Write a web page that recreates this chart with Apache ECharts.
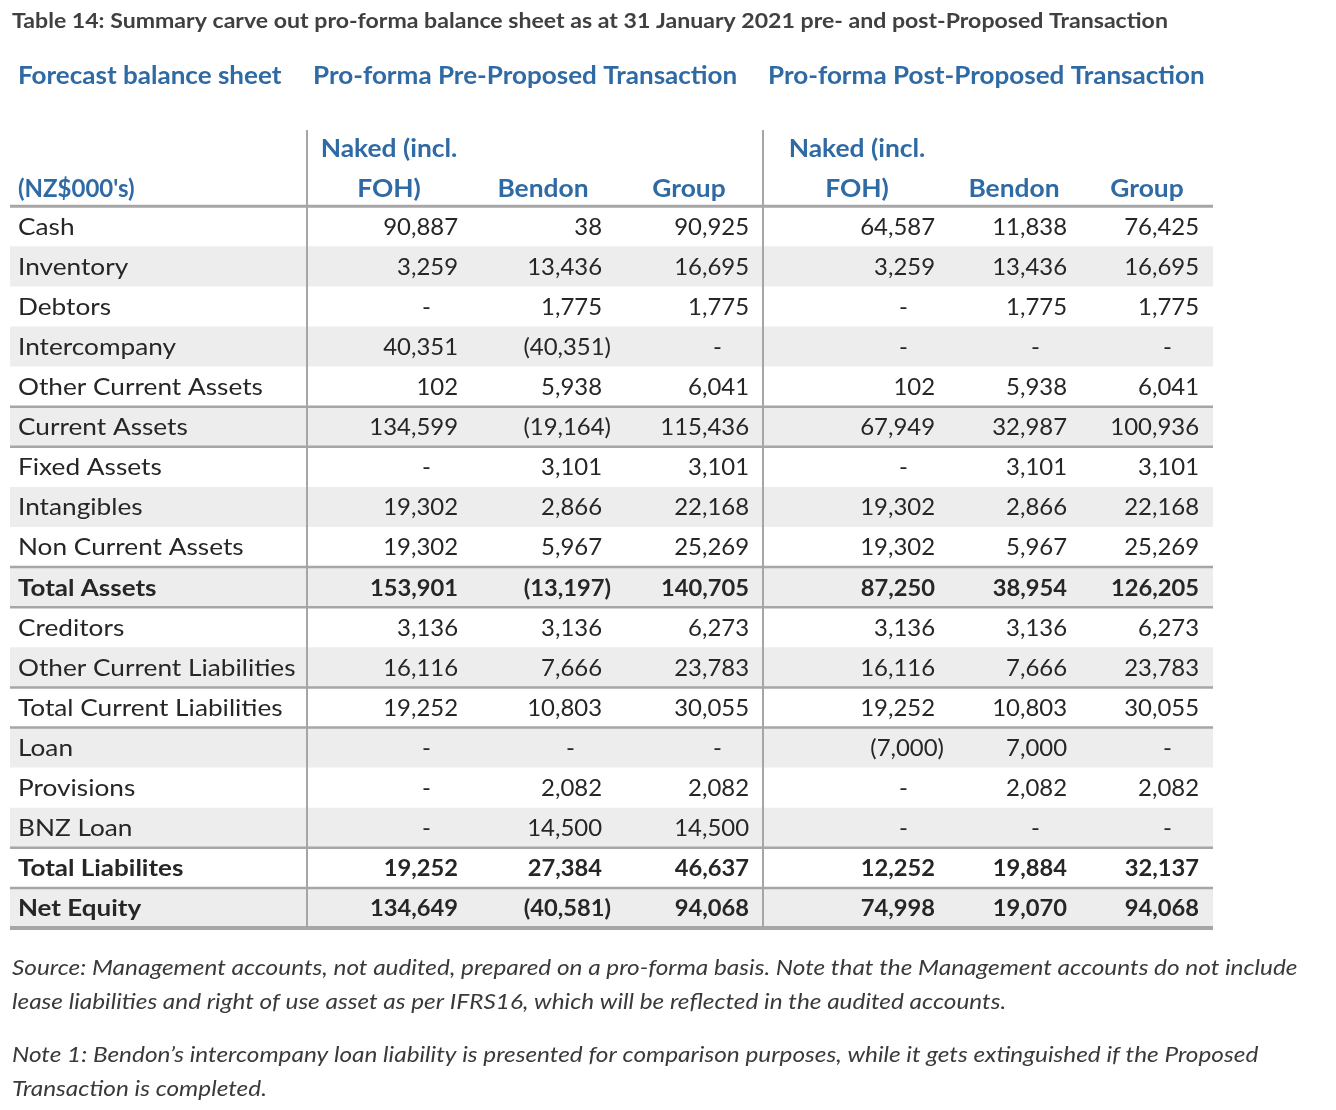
<!DOCTYPE html>
<html>
<head>
<meta charset="utf-8">
<script src="https://cdn.jsdelivr.net/npm/echarts@6/dist/echarts.min.js"></script>
<style>
html,body{margin:0;padding:0;background:#fff;}
#chart{width:1336px;height:1110px;}
</style>
</head>
<body>
<div id="chart"></div>
<script>
// ---------------- DATA ----------------
const titleText = 'Table 14: Summary carve out pro-forma balance sheet as at 31 January 2021 pre- and post-Proposed Transaction';
const sectionHeaders = ['Forecast balance sheet', 'Pro-forma Pre-Proposed Transaction', 'Pro-forma Post-Proposed Transaction'];
const unitLabel = "(NZ$000's)";
const columnHeaders = [['Naked (incl.', 'FOH)'], ['', 'Bendon'], ['', 'Group'], ['Naked (incl.', 'FOH)'], ['', 'Bendon'], ['', 'Group']];
const rowLabels = ['Cash', 'Inventory', 'Debtors', 'Intercompany', 'Other Current Assets', 'Current Assets',
  'Fixed Assets', 'Intangibles', 'Non Current Assets', 'Total Assets', 'Creditors', 'Other Current Liabilities',
  'Total Current Liabilities', 'Loan', 'Provisions', 'BNZ Loan', 'Total Liabilites', 'Net Equity'];
const boldRows = ['Total Assets', 'Total Liabilites', 'Net Equity'];
const preNaked  = [90887, 3259, 0, 40351, 102, 134599, 0, 19302, 19302, 153901, 3136, 16116, 19252, 0, 0, 0, 19252, 134649];
const preBendon = [38, 13436, 1775, -40351, 5938, -19164, 3101, 2866, 5967, -13197, 3136, 7666, 10803, 0, 2082, 14500, 27384, -40581];
const preGroup  = [90925, 16695, 1775, 0, 6041, 115436, 3101, 22168, 25269, 140705, 6273, 23783, 30055, 0, 2082, 14500, 46637, 94068];
const postNaked  = [64587, 3259, 0, 0, 102, 67949, 0, 19302, 19302, 87250, 3136, 16116, 19252, -7000, 0, 0, 12252, 74998];
const postBendon = [11838, 13436, 1775, 0, 5938, 32987, 3101, 2866, 5967, 38954, 3136, 7666, 10803, 7000, 2082, 0, 19884, 19070];
const postGroup  = [76425, 16695, 1775, 0, 6041, 100936, 3101, 22168, 25269, 126205, 6273, 23783, 30055, 0, 2082, 0, 32137, 94068];
const ruleAfter = ['Other Current Assets', 'Current Assets', 'Non Current Assets', 'Total Assets',
  'Other Current Liabilities', 'Total Current Liabilities', 'BNZ Loan', 'Total Liabilites'];
const footnotes = [
  'Source: Management accounts, not audited, prepared on a pro-forma basis. Note that the Management accounts do not include',
  'lease liabilities and right of use asset as per IFRS16, which will be reflected in the audited accounts.',
  'Note 1: Bendon\u2019s intercompany loan liability is presented for comparison purposes, while it gets extinguished if the Proposed',
  'Transaction is completed.'
];

// ---------------- LAYOUT / STYLE ----------------
const FONT = 'Lato';
const BLUE = '#2f6aa4';
const TXT = '#262626';
const NOTE = '#3a3a3a';
const BAND = '#ededed';
const RULE = '#a6a6a6';
const GRID_LEFT = 10, GRID_RIGHT_EDGE = 1213, GRID_TOP = 126, GRID_BOTTOM_EDGE = 928;
const W = GRID_RIGHT_EDGE - GRID_LEFT;
const colRight = [458, 602, 749, 935, 1067, 1199].map(v => v - GRID_LEFT);
const colCenter = [389, 543, 689, 857, 1014, 1147].map(v => v - GRID_LEFT);
const vLines = [307, 763].map(v => v - GRID_LEFT);
const labelX = 18 - GRID_LEFT;

const headerCats = ['hdr1', 'hdr2'];
const yCats = headerCats.concat(rowLabels);
const valueCols = [preNaked, preBendon, preGroup, postNaked, postBendon, postGroup];

function fmt(v) {
  if (v === 0) return '-';
  const s = Math.abs(v).toLocaleString('en-US');
  return v < 0 ? '(' + s + ')' : s;
}

const bandData = rowLabels.map((r, i) => [0, i + 2, i % 2]);
const cellData = [];
valueCols.forEach((arr, c) => arr.forEach((v, r) => cellData.push([c, r + 2, v])));
const labelData = rowLabels.map((r, i) => [0, i + 2]);
const headerData = [];
columnHeaders.forEach((h, c) => { headerData.push([c, 0, h[0]]); headerData.push([c, 1, h[1]]); });
const ruleData = ruleAfter.map(n => [0, rowLabels.indexOf(n) + 2]);

const chart = echarts.init(document.getElementById('chart'), null, { renderer: 'canvas' });

function rowBox(api, rowIdx) {
  const y = api.coord([0, rowIdx])[1];
  const h = api.size([0, 1])[1];
  return { y: y, top: y - h / 2, bottom: y + h / 2, h: h };
}
function stretchedText(x, y, text, font, fill, align, sx) {
  return { type: 'text', x: x, y: y, scaleX: sx, scaleY: 1,
    style: { text: text, x: 0, y: 0, align: align, verticalAlign: 'middle', font: font, fill: fill } };
}

const option = {
  backgroundColor: '#ffffff',
  animation: false,
  grid: { left: GRID_LEFT, top: GRID_TOP, width: W, height: GRID_BOTTOM_EDGE - GRID_TOP },
  xAxis: { type: 'value', min: 0, max: W, show: false },
  yAxis: { type: 'category', data: yCats, inverse: true, show: false },
  graphic: [
    stretchedText(12, 21, titleText, 'bold 21px ' + FONT, '#404040', 'left', 1.1),
    stretchedText(18, 76, sectionHeaders[0], 'bold 24px ' + FONT, BLUE, 'left', 1.085),
    stretchedText(313, 76, sectionHeaders[1], 'bold 24px ' + FONT, BLUE, 'left', 1.085),
    stretchedText(768, 76, sectionHeaders[2], 'bold 24px ' + FONT, BLUE, 'left', 1.085),
    stretchedText(12, 968, footnotes[0], 'italic 21px ' + FONT, NOTE, 'left', 1.16),
    stretchedText(12, 1002, footnotes[1], 'italic 21px ' + FONT, NOTE, 'left', 1.16),
    stretchedText(12, 1055, footnotes[2], 'italic 21px ' + FONT, NOTE, 'left', 1.16),
    stretchedText(12, 1089, footnotes[3], 'italic 21px ' + FONT, NOTE, 'left', 1.16)
  ],
  series: [
    { // row bands
      type: 'custom', z: 1, silent: true, data: bandData,
      renderItem: function (params, api) {
        if (api.value(2) !== 1) return null;
        const b = rowBox(api, api.value(1));
        const x0 = api.coord([0, 0])[0], x1 = api.coord([W, 0])[0];
        return { type: 'rect', shape: { x: x0, y: b.top, width: x1 - x0, height: b.h }, style: { fill: BAND } };
      }
    },
    { // horizontal rules
      type: 'custom', z: 3, silent: true, data: ruleData.concat([[1, 1], [2, 19]]),
      renderItem: function (params, api) {
        const kind = api.value(0);
        const b = rowBox(api, api.value(1));
        const x0 = api.coord([0, 0])[0], x1 = api.coord([W, 0])[0];
        const lw = kind === 2 ? 4 : (kind === 1 ? 3 : 2.5);
        return { type: 'line', shape: { x1: x0, y1: b.bottom, x2: x1, y2: b.bottom }, style: { stroke: RULE, lineWidth: lw } };
      }
    },
    { // vertical rules
      type: 'custom', z: 3, silent: true, data: vLines.map(v => [v, 0]),
      renderItem: function (params, api) {
        const x = api.coord([api.value(0), 0])[0];
        const top = rowBox(api, 0).top + 4;
        const bottom = rowBox(api, yCats.length - 1).bottom;
        return { type: 'line', shape: { x1: x, y1: top, x2: x, y2: bottom }, style: { stroke: RULE, lineWidth: 2 } };
      }
    },
    { // column headers
      type: 'custom', z: 5, silent: true, data: headerData,
      renderItem: function (params, api) {
        const c = api.value(0);
        const txt = headerData[params.dataIndex][2];
        if (!txt) return null;
        const x = api.coord([colCenter[c], 0])[0];
        const y = rowBox(api, api.value(1)).y + 3;
        return stretchedText(x, y, txt, 'bold 24px ' + FONT, BLUE, 'center', 1.1);
      }
    },
    { // unit label
      type: 'custom', z: 5, silent: true, data: [[0, 1]],
      renderItem: function (params, api) {
        const x = api.coord([labelX, 0])[0];
        const y = rowBox(api, 1).y + 3;
        return stretchedText(x, y, unitLabel, 'bold 24px ' + FONT, BLUE, 'left', 1.0);
      }
    },
    { // row labels
      type: 'custom', z: 5, silent: true, data: labelData,
      renderItem: function (params, api) {
        const name = rowLabels[params.dataIndex];
        const bold = boldRows.indexOf(name) >= 0;
        const x = api.coord([labelX, 0])[0];
        const y = rowBox(api, api.value(1)).y + 1;
        return stretchedText(x, y, name, (bold ? 'bold ' : '') + '23px ' + FONT, TXT, 'left', bold ? 1.13 : 1.14);
      }
    },
    { // numeric cells
      type: 'custom', z: 5, silent: true, data: cellData,
      renderItem: function (params, api) {
        const c = api.value(0), r = api.value(1), v = api.value(2);
        const name = yCats[r];
        const bold = boldRows.indexOf(name) >= 0;
        let xr = colRight[c];
        if (v < 0) xr += 9;
        if (v === 0) xr -= 27;
        const x = api.coord([xr, 0])[0];
        const y = rowBox(api, r).y + 1;
        return stretchedText(x, y, fmt(v), (bold ? 'bold ' : '') + '23px ' + FONT, TXT, 'right', bold ? 1.03 : 1.04);
      }
    }
  ]
};
chart.setOption(option);
</script>
</body>
</html>
